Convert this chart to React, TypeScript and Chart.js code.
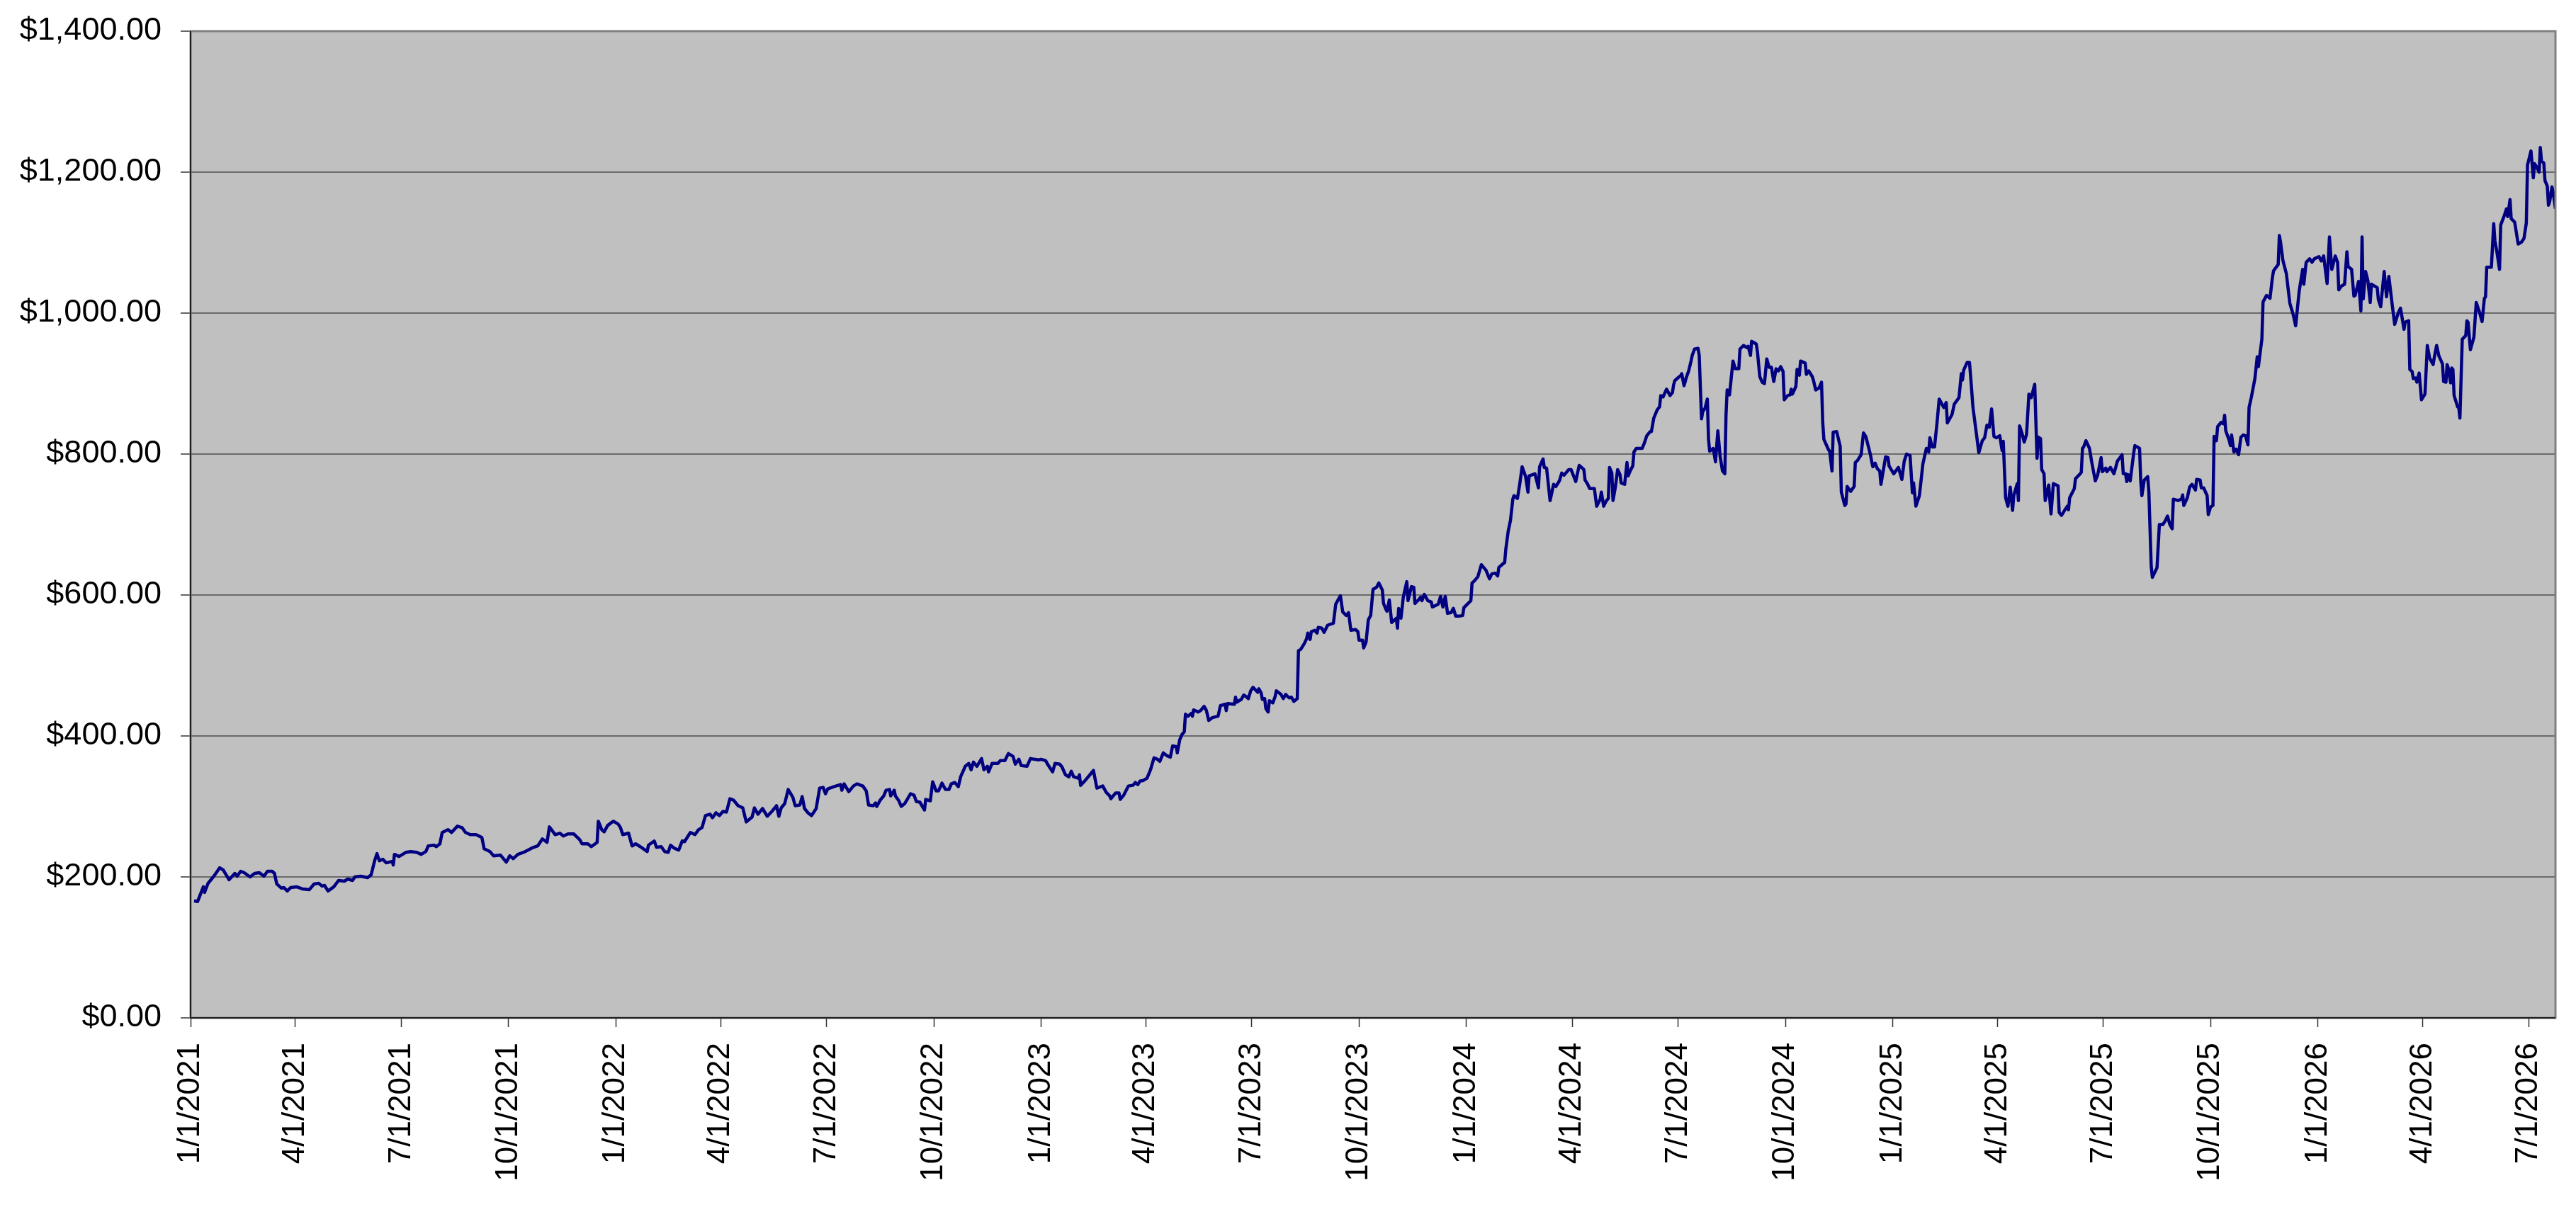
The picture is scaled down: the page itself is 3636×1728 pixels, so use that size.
import { useEffect, useRef } from "react";
import { Chart, registerables } from "chart.js";

Chart.register(...registerables);

// [days since 1/1/2021, price]
const points2021: [number, number][] = [
  [3, 166], [6, 165], [11, 186], [12, 178], [15, 191], [20, 201], [25, 213], [28, 210], [33, 196], [38, 205],
  [40, 201], [43, 208], [46, 206], [51, 200], [55, 205], [59, 206], [63, 201], [66, 208], [70, 208], [72, 205],
  [74, 190], [78, 184], [80, 185], [83, 180], [86, 185], [91, 186], [96, 183], [102, 182], [106, 190], [110, 191],
  [113, 187], [115, 188], [118, 180], [123, 186], [127, 195], [132, 194], [135, 197], [139, 195], [141, 200], [146, 201],
  [152, 199], [155, 203], [158, 223], [160, 233], [162, 223], [165, 225], [168, 220], [173, 222], [174, 217], [175, 232],
  [179, 229], [185, 235], [189, 236], [194, 235], [198, 232], [202, 236], [204, 244], [209, 245], [211, 243], [214, 247],
  [216, 263], [221, 267], [224, 263], [229, 272], [233, 270], [236, 263], [240, 260], [245, 260], [250, 256], [252, 240],
  [257, 236], [260, 230], [266, 231], [271, 221], [274, 230], [277, 226], [281, 232], [286, 235], [293, 241], [298, 244],
  [302, 254], [306, 249], [308, 271], [313, 260], [317, 262], [320, 258], [324, 261], [329, 261], [334, 253], [336, 247],
  [341, 247], [344, 243], [349, 249], [350, 279], [353, 267], [355, 264], [358, 273], [362, 278],
];

const points2022: [number, number][] = [
  [363, 279], [367, 275], [369, 270], [371, 260], [376, 262], [379, 244], [382, 247], [386, 243], [392, 236], [393, 245],
  [398, 251], [400, 242], [404, 243], [407, 236], [410, 235], [412, 245], [415, 241], [419, 238], [422, 251], [424, 250],
  [429, 263], [433, 260], [436, 267], [439, 270], [442, 287], [446, 289], [448, 284], [451, 291], [454, 287], [457, 293],
  [460, 292], [463, 311], [466, 309], [470, 301], [474, 298], [477, 278], [482, 285], [484, 298], [487, 289], [491, 297],
  [495, 286], [499, 293], [503, 301], [505, 286], [507, 298], [510, 304], [513, 324], [517, 313], [519, 301], [523, 302],
  [525, 314], [527, 297], [530, 291], [533, 287], [537, 297], [540, 326], [543, 327], [545, 318], [547, 325], [554, 329],
  [558, 331], [559, 323], [561, 332], [565, 321], [569, 329], [572, 332], [577, 329], [580, 322], [582, 302], [586, 301],
  [588, 305], [589, 300], [592, 309], [595, 315], [597, 323], [600, 324], [601, 315], [604, 323], [605, 315], [608, 308],
  [610, 300], [613, 304], [618, 318], [621, 316], [623, 307], [626, 306], [630, 295], [631, 310], [635, 308], [637, 335],
  [640, 322], [642, 322], [645, 333], [648, 324], [651, 324], [653, 332], [656, 334], [659, 328], [661, 342], [665, 357],
  [668, 361], [670, 352], [672, 363], [675, 357], [679, 368], [681, 352], [684, 357], [685, 349], [688, 361], [693, 361],
  [695, 365], [699, 365], [702, 375], [706, 371], [708, 360], [711, 367], [713, 358], [718, 357], [721, 368],
];

const points2023: [number, number][] = [
  [724, 367], [728, 366], [730, 367], [734, 365], [736, 359], [740, 349], [742, 361], [746, 360], [748, 356], [751, 345],
  [754, 342], [756, 350], [758, 342], [762, 340], [763, 345], [764, 330], [768, 337], [771, 343], [775, 351], [778, 326],
  [783, 329], [786, 320], [789, 315], [790, 311], [794, 319], [797, 319], [798, 310], [801, 316], [805, 329], [809, 330],
  [811, 334], [813, 331], [815, 336], [818, 337], [821, 340], [824, 352], [827, 369], [830, 367], [832, 364], [835, 376],
  [838, 372], [841, 370], [843, 386], [846, 385], [847, 376], [849, 394], [851, 402], [853, 406], [854, 431], [856, 428],
  [859, 432], [860, 428], [861, 437], [865, 434], [867, 436], [870, 442], [872, 436], [874, 422], [877, 426], [882, 428],
  [884, 443], [888, 445], [889, 436], [890, 446], [896, 445], [897, 455], [898, 448], [902, 452], [904, 458], [906, 456],
  [908, 453], [910, 464], [912, 469], [916, 462], [917, 467], [919, 461], [920, 452], [922, 453], [923, 439], [925, 434],
  [926, 450], [929, 447], [931, 456], [932, 464], [936, 459], [938, 453], [940, 459], [943, 454], [945, 455], [947, 449],
  [950, 453], [951, 521], [953, 523], [956, 531], [958, 538], [959, 546], [961, 537], [962, 548], [965, 550], [967, 546],
  [968, 554], [971, 553], [973, 547], [976, 557], [979, 559], [981, 560], [983, 587], [987, 599], [989, 576], [992, 571],
  [994, 575], [996, 550], [1000, 551], [1002, 548], [1003, 536], [1006, 536], [1007, 525], [1009, 533], [1011, 565], [1013, 571],
  [1015, 608], [1018, 611], [1020, 617], [1023, 607], [1024, 588], [1026, 580], [1027, 577], [1029, 593], [1031, 561], [1033, 564],
  [1035, 567], [1036, 553], [1037, 581], [1039, 567], [1041, 597], [1044, 619], [1045, 592], [1048, 612], [1050, 611], [1051, 588],
  [1054, 593], [1056, 597], [1057, 592], [1059, 601], [1062, 592], [1065, 590], [1066, 583], [1071, 587], [1073, 598], [1075, 583],
  [1077, 598], [1079, 574], [1082, 575], [1084, 581], [1086, 570],
];

const points2024: [number, number][] = [
  [1089, 570], [1092, 571], [1093, 582], [1096, 587], [1099, 592], [1100, 617], [1102, 620], [1105, 626], [1108, 643], [1112, 635],
  [1115, 623], [1117, 630], [1120, 631], [1122, 627], [1123, 639], [1127, 645], [1128, 646], [1129, 665], [1131, 690], [1133, 706],
  [1135, 736], [1136, 741], [1139, 737], [1141, 758], [1143, 782], [1146, 768], [1148, 746], [1149, 769], [1154, 772], [1157, 752],
  [1158, 782], [1161, 793], [1162, 781], [1164, 780], [1167, 734], [1170, 757], [1172, 754], [1175, 762], [1177, 773], [1179, 770],
  [1183, 778], [1185, 778], [1189, 761], [1192, 784], [1196, 778], [1197, 763], [1199, 758], [1201, 751], [1205, 751], [1207, 726],
  [1210, 736], [1211, 746], [1213, 726], [1215, 733], [1217, 737], [1218, 781], [1220, 773], [1221, 734], [1223, 753], [1225, 778],
  [1227, 771], [1228, 759], [1231, 757], [1233, 788], [1234, 769], [1236, 777], [1238, 783], [1239, 803], [1241, 808], [1246, 808],
  [1248, 816], [1250, 826], [1253, 832], [1254, 832], [1256, 851], [1259, 863], [1261, 867], [1262, 883], [1264, 881], [1265, 885],
  [1267, 892], [1270, 883], [1272, 887], [1273, 898], [1274, 904], [1276, 907], [1278, 910], [1279, 911], [1280, 914], [1282, 897],
  [1284, 909], [1286, 918], [1288, 932], [1289, 940], [1291, 949], [1294, 950], [1295, 940], [1297, 850], [1298, 860], [1300, 865],
  [1302, 878], [1303, 821], [1304, 804], [1307, 808], [1309, 789], [1311, 833], [1313, 796], [1315, 776], [1317, 772], [1318, 855],
  [1319, 891], [1321, 884], [1324, 932], [1326, 921], [1329, 921], [1330, 949], [1333, 954], [1336, 951], [1337, 953], [1339, 940],
  [1340, 960], [1342, 958], [1344, 956], [1345, 945], [1347, 910], [1349, 902], [1351, 900], [1353, 935], [1355, 923], [1357, 923],
  [1359, 903], [1361, 921], [1363, 918], [1365, 924], [1367, 917], [1368, 877], [1371, 883], [1373, 884], [1374, 892], [1375, 885],
  [1378, 896], [1379, 920], [1381, 912], [1382, 932], [1386, 929], [1387, 913], [1389, 918], [1392, 910], [1393, 905], [1395, 891],
  [1398, 894], [1400, 902], [1401, 846], [1402, 821], [1406, 806], [1407, 804], [1409, 776], [1410, 831], [1413, 832], [1416, 811],
  [1417, 746], [1420, 727], [1421, 729], [1422, 754], [1425, 747], [1428, 754], [1429, 788], [1431, 791], [1432, 794], [1434, 799],
  [1436, 830], [1438, 825], [1442, 799], [1443, 790], [1444, 782], [1446, 787], [1448, 779], [1450, 776], [1451, 757], [1455, 796],
  [1457, 795], [1458, 783],
];

const points2025: [number, number][] = [
  [1462, 772], [1466, 781], [1469, 764], [1471, 790], [1473, 800], [1476, 798], [1478, 745], [1479, 759], [1481, 726], [1484, 741],
  [1487, 786], [1490, 808], [1492, 803], [1493, 823], [1495, 810], [1497, 810], [1499, 842], [1501, 878], [1505, 866], [1507, 873],
  [1508, 844], [1512, 856], [1514, 871], [1518, 880], [1520, 914], [1521, 905], [1522, 919], [1525, 930], [1527, 930], [1528, 910],
  [1530, 866], [1533, 828], [1535, 802], [1538, 819], [1540, 823], [1542, 841], [1544, 838], [1546, 864], [1548, 825], [1550, 823],
  [1553, 826], [1555, 805], [1556, 818], [1558, 738], [1560, 726], [1562, 753], [1564, 720], [1565, 741], [1568, 758], [1569, 734],
  [1570, 840], [1572, 830], [1574, 817], [1576, 828], [1578, 885], [1580, 880], [1583, 899], [1585, 794], [1586, 824], [1588, 822],
  [1589, 778], [1591, 772], [1592, 734], [1595, 756], [1597, 715], [1599, 758], [1603, 755], [1604, 717], [1606, 713], [1609, 721],
  [1611, 726], [1612, 721], [1613, 738], [1617, 751], [1618, 765], [1622, 772], [1623, 774], [1624, 808], [1625, 810], [1627, 819],
  [1630, 808], [1632, 788], [1635, 762], [1637, 770], [1640, 795], [1641, 775], [1644, 780], [1645, 775], [1648, 781], [1651, 772],
  [1654, 790], [1658, 799], [1659, 772], [1661, 772], [1662, 761], [1663, 771], [1665, 762], [1668, 802], [1669, 812], [1673, 808],
  [1674, 762], [1675, 741], [1677, 763], [1680, 768], [1681, 746], [1683, 641], [1684, 625], [1688, 639], [1690, 700], [1693, 700],
  [1695, 705], [1697, 712], [1699, 700], [1701, 694], [1702, 736], [1706, 734], [1709, 736], [1710, 742], [1711, 727], [1714, 738],
  [1716, 753], [1718, 757], [1721, 749], [1722, 764], [1725, 763], [1726, 752], [1728, 752], [1731, 741], [1732, 714], [1734, 725],
  [1736, 727], [1737, 825], [1739, 819], [1740, 839], [1743, 845], [1745, 843], [1746, 855], [1747, 833], [1750, 819], [1751, 812],
  [1752, 827], [1754, 803], [1756, 807], [1758, 799], [1760, 824], [1762, 827], [1764, 826], [1766, 813], [1767, 866], [1769, 881],
  [1772, 907], [1774, 938], [1775, 924], [1778, 963], [1779, 1016], [1782, 1025], [1785, 1021], [1787, 1050], [1788, 1060], [1792, 1069],
  [1793, 1110], [1794, 1101], [1796, 1075], [1799, 1056], [1802, 1014], [1805, 997], [1807, 982], [1810, 1031], [1813, 1062], [1814, 1041],
  [1816, 1072],
];

const points2026: [number, number][] = [
  [1819, 1077], [1821, 1072], [1823, 1077], [1827, 1080], [1829, 1074], [1831, 1081], [1834, 1042], [1836, 1108], [1838, 1062], [1841, 1081],
  [1843, 1072], [1844, 1033], [1846, 1038], [1849, 1041], [1851, 1087], [1852, 1066], [1855, 1062], [1857, 1024], [1858, 1025], [1860, 1038],
  [1861, 1045], [1863, 1003], [1864, 1108], [1865, 1020], [1867, 1059], [1869, 1046], [1871, 1015], [1872, 1041], [1877, 1036], [1878, 1019],
  [1880, 1009], [1883, 1059], [1885, 1023], [1887, 1052], [1890, 1010], [1892, 984], [1895, 1000], [1897, 1007], [1900, 977], [1901, 987],
  [1904, 989], [1905, 920], [1907, 917], [1908, 907], [1910, 908], [1911, 902], [1913, 915], [1915, 877], [1918, 885], [1920, 954],
  [1922, 936], [1925, 927], [1926, 937], [1928, 954], [1930, 939], [1933, 928], [1934, 903], [1936, 902], [1937, 927], [1938, 922],
  [1940, 901], [1941, 922], [1942, 920], [1943, 883], [1946, 867], [1947, 866], [1948, 851], [1950, 963], [1953, 968], [1954, 989],
  [1955, 987], [1957, 948], [1960, 966], [1962, 1015], [1965, 1000], [1967, 988], [1969, 1021], [1970, 1023], [1971, 1065], [1975, 1065],
  [1977, 1127], [1978, 1103], [1980, 1084], [1982, 1062], [1983, 1125], [1986, 1138], [1988, 1148], [1989, 1137], [1991, 1161], [1992, 1134],
  [1995, 1129], [1998, 1098], [2001, 1101], [2003, 1106], [2005, 1128], [2006, 1210], [2009, 1230], [2011, 1192], [2012, 1212], [2014, 1207],
  [2016, 1200], [2017, 1235], [2018, 1216], [2020, 1213], [2021, 1188], [2022, 1184], [2023, 1180], [2024, 1153], [2025, 1158], [2027, 1179],
  [2028, 1172], [2030, 1148],
];

const quarterLabels = [
  "1/1/2021", "4/1/2021", "7/1/2021", "10/1/2021",
  "1/1/2022", "4/1/2022", "7/1/2022", "10/1/2022",
  "1/1/2023", "4/1/2023", "7/1/2023", "10/1/2023",
  "1/1/2024", "4/1/2024", "7/1/2024", "10/1/2024",
  "1/1/2025", "4/1/2025", "7/1/2025", "10/1/2025",
  "1/1/2026", "4/1/2026", "7/1/2026",
];

const yTicks = [0, 200, 400, 600, 800, 1000, 1200, 1400];
const lastDay = 2030;

function dayOf(label: string) {
  const [m, d, y] = label.split("/").map(Number);
  return Math.round((Date.UTC(y, m - 1, d) - Date.UTC(2021, 0, 1)) / 86400000);
}

const money = (v: number) =>
  "$" + v.toLocaleString("en-US", { minimumFractionDigits: 2, maximumFractionDigits: 2 });

const plotFrame = {
  id: "plotFrame",
  beforeDraw(chart: Chart) {
    const { ctx, chartArea } = chart;
    const { left, top, right, bottom } = chartArea;
    ctx.save();
    ctx.fillStyle = "#c0c0c0";
    ctx.fillRect(left, top, right - left, bottom - top);
    ctx.restore();
  },
  afterDraw(chart: Chart) {
    const { ctx, chartArea } = chart;
    const { left, top, right, bottom } = chartArea;
    ctx.save();
    ctx.strokeStyle = "#808080";
    ctx.lineWidth = 3;
    ctx.strokeRect(left, top, right - left, bottom - top);
    ctx.strokeStyle = "#202020";
    ctx.lineWidth = 2;
    ctx.beginPath();
    ctx.moveTo(left, top);
    ctx.lineTo(left, bottom);
    ctx.lineTo(right, bottom);
    ctx.stroke();
    ctx.restore();
  },
};

// drop the label-overhang padding so the plot box sits exactly where the layout padding puts it
const noOverhang = (scale: any) => {
  scale.paddingTop = 0;
  scale.paddingBottom = 0;
  scale.paddingLeft = 0;
  scale.paddingRight = 0;
};

export default function App() {
  const canvasRef = useRef<HTMLCanvasElement | null>(null);

  useEffect(() => {
    const canvas = canvasRef.current;
    if (!canvas) return;

    const points = [...points2021, ...points2022, ...points2023, ...points2024, ...points2025, ...points2026];
    const quarterDays = quarterLabels.map(dayOf);
    const labelByDay = new Map(quarterDays.map((d, i) => [d, quarterLabels[i]]));

    const chart = new Chart(canvas, {
      type: "line",
      data: {
        datasets: [
          {
            data: points.map(([x, y]) => ({ x, y })),
            borderColor: "#000080",
            borderWidth: 4.5,
            borderJoinStyle: "round",
            pointRadius: 0,
            tension: 0,
            fill: false,
          },
        ],
      },
      options: {
        animation: false,
        responsive: false,
        devicePixelRatio: 1,
        layout: { padding: { top: 44, right: 29, left: 0, bottom: 0 } },
        plugins: {
          legend: { display: false },
          tooltip: { enabled: false },
        },
        scales: {
          x: {
            type: "linear",
            min: 0,
            max: lastDay,
            border: { display: false },
            grid: {
              drawOnChartArea: false,
              drawTicks: true,
              tickLength: 13,
              tickColor: "#333333",
              tickWidth: 1.5,
            },
            afterBuildTicks: (scale: any) => {
              scale.ticks = quarterDays.map((value) => ({ value }));
            },
            afterFit: (scale: any) => {
              scale.height = 291;
              noOverhang(scale);
            },
            ticks: {
              autoSkip: false,
              minRotation: 90,
              maxRotation: 90,
              padding: 22,
              color: "#000000",
              font: { family: "'Liberation Sans', Arial, sans-serif", size: 44 },
              callback: (value: any) => labelByDay.get(Number(value)) ?? "",
            },
          },
          y: {
            min: 0,
            max: 1400,
            border: { display: false },
            grid: {
              color: "#6a6a6a",
              lineWidth: 2,
              tickLength: 14,
              tickColor: "#333333",
              tickWidth: 1.5,
            },
            afterBuildTicks: (scale: any) => {
              scale.ticks = yTicks.map((value) => ({ value }));
            },
            afterFit: (scale: any) => {
              scale.width = 269;
              noOverhang(scale);
            },
            ticks: {
              padding: 27,
              color: "#000000",
              font: { family: "'Liberation Sans', Arial, sans-serif", size: 45 },
              callback: (value: any) => money(Number(value)),
            },
          },
        },
      },
      plugins: [plotFrame],
    });

    return () => {
      chart.destroy();
    };
  }, []);

  return (
    <div style={{ position: "fixed", left: 0, top: 0, width: 3636, height: 1728, background: "#ffffff" }}>
      <canvas ref={canvasRef} width={3636} height={1728} style={{ width: 3636, height: 1728 }} />
    </div>
  );
}
